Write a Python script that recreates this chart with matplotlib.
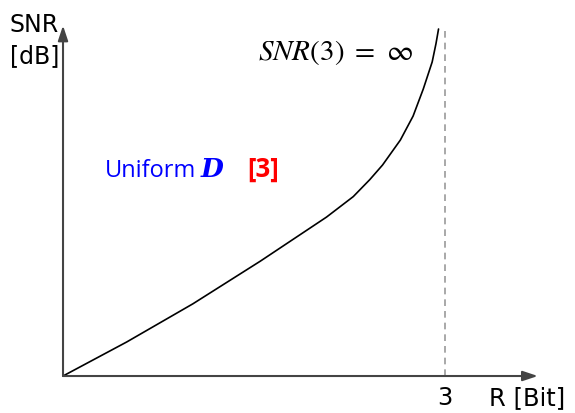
import matplotlib.pyplot as plt

# rate R [Bit] vs SNR [dB] for uniform D, blows up at R = 3
rate = [0, 0.50, 1.02, 1.55, 2.07, 2.28, 2.41, 2.51, 2.65, 2.75, 2.83, 2.90, 2.93, 2.95]
snr_db = [0, 0.98, 2.08, 3.31, 4.58, 5.17, 5.66, 6.08, 6.80, 7.49, 8.27, 9.05, 9.58, 10.0]
r_max = 3

plt.rcParams["mathtext.fontset"] = "stix"

fig = plt.figure(figsize=(5.75, 4.14), dpi=100)
ax = fig.add_axes([0, 0, 1, 1])
ax.set_xlim(-0.495, 4.022)
ax.set_ylim(-1.066, 10.865)
ax.axis("off")

# hand drawn style axes with arrow heads
arrow = dict(arrowstyle="-|>,head_length=0.9,head_width=0.3", color="#444444",
             lw=1.5, shrinkA=0, shrinkB=0)
ax.annotate("", xy=(3.73, 0), xytext=(0, 0), arrowprops=arrow)
ax.annotate("", xy=(0, 10.1), xytext=(0, 0), arrowprops=arrow)

ax.plot([r_max, r_max], [0, 10.0], color="#999999", lw=1.2, ls=(0, (4, 3)))
ax.plot(rate, snr_db, color="black", lw=1.2, solid_joinstyle="round", solid_capstyle="round")

ax.text(-0.42, 9.94, "SNR", fontsize=17, family="DejaVu Sans", va="baseline")
ax.text(-0.42, 9.05, "[dB]", fontsize=17, family="DejaVu Sans", va="baseline")
ax.text(r_max, -0.81, "3", fontsize=17.5, family="DejaVu Sans", ha="center", va="baseline")
ax.text(3.35, -0.81, "R [Bit]", fontsize=17.5, family="DejaVu Sans", va="baseline")

ax.text(1.53, 9.14, r"$SNR(3)\ =\ \infty$", fontsize=21, va="baseline")

ax.text(0.33, 5.76, "Uniform", fontsize=17, family="Open Sans", color="#0000ff", va="baseline")
ax.text(1.08, 5.76, "D", fontsize=19, family="DejaVu Serif", weight="bold", style="italic",
        color="#0000ff", va="baseline")
ax.text(1.445, 5.76, "[3]", fontsize=18.5, family="Open Sans", weight="bold", color="#ff0000",
        va="baseline")

fig.savefig("out.png", dpi=100)
